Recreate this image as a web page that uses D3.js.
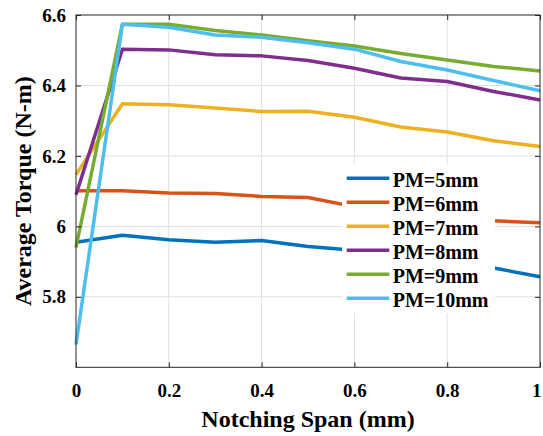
<!DOCTYPE html>
<html>
<head>
<meta charset="utf-8">
<script src="https://cdn.jsdelivr.net/npm/d3@7"></script>
<style>
	body { margin: 0; background: #fff; }
</style>
</head>
<body>
<div id="torque-chart"></div>
<script>
// Notching span values (mm)
const spans = [0, 0.1, 0.2, 0.3, 0.4, 0.5, 0.6, 0.7, 0.8, 0.9, 1.0];

// Average torque (N-m) per PM thickness
const pm5  = [5.955, 5.975, 5.962, 5.955, 5.960, 5.943, 5.932, 5.918, 5.902, 5.882, 5.857];
const pm6  = [6.101, 6.101, 6.095, 6.093, 6.085, 6.082, 6.056, 6.042, 6.030, 6.016, 6.010];
const pm7  = [6.147, 6.348, 6.345, 6.336, 6.326, 6.327, 6.310, 6.282, 6.268, 6.243, 6.227];
const pm8  = [6.090, 6.503, 6.501, 6.487, 6.484, 6.471, 6.449, 6.421, 6.411, 6.383, 6.359];
const pm9  = [5.940, 6.574, 6.574, 6.556, 6.543, 6.527, 6.512, 6.491, 6.472, 6.454, 6.441];
const pm10 = [5.665, 6.574, 6.565, 6.543, 6.537, 6.521, 6.503, 6.468, 6.444, 6.414, 6.385];

const seriesNames = ["PM=5mm", "PM=6mm", "PM=7mm", "PM=8mm", "PM=9mm", "PM=10mm"];
const seriesValues = [pm5, pm6, pm7, pm8, pm9, pm10];
const seriesColors = ["#0072BD", "#D95319", "#EDB120", "#7E2F8E", "#77AC30", "#4DBEEE"];

const xTicks = [0, 0.2, 0.4, 0.6, 0.8, 1];
const yTicks = [5.8, 6, 6.2, 6.4, 6.6];

const serif = "'Liberation Serif', 'Times New Roman', 'DejaVu Serif', serif";

// Set up dimensions
const margin = {top: 15, right: 3, bottom: 68.7, left: 76};
const width = 543 - margin.left - margin.right;
const height = 436 - margin.top - margin.bottom;

const svg = d3.select("#torque-chart")
	.append("svg")
	.attr("width", 543)
	.attr("height", 436)
	.append("g")
	.attr("transform", `translate(${margin.left},${margin.top})`);

// Scales
const xScale = d3.scaleLinear().domain([0, 1]).range([0, width]);
const yScale = d3.scaleLinear().domain([5.6, 6.6]).range([height, 0]);

// Grid lines
svg.selectAll(".xgrid")
	.data(xTicks.slice(1, -1))
	.enter()
	.append("line")
	.attr("x1", d => xScale(d))
	.attr("x2", d => xScale(d))
	.attr("y1", 0)
	.attr("y2", height)
	.attr("stroke", "#dfdfdf")
	.attr("stroke-width", 1);

svg.selectAll(".ygrid")
	.data(yTicks.slice(0, -1))
	.enter()
	.append("line")
	.attr("x1", 0)
	.attr("x2", width)
	.attr("y1", d => yScale(d))
	.attr("y2", d => yScale(d))
	.attr("stroke", "#dfdfdf")
	.attr("stroke-width", 1);

// Lines
const line = d3.line()
	.x((d, i) => xScale(spans[i]))
	.y(d => yScale(d));

seriesValues.forEach((values, i) => {
	svg.append("path")
		.datum(values)
		.attr("fill", "none")
		.attr("stroke", seriesColors[i])
		.attr("stroke-width", 3.5)
		.attr("stroke-linejoin", "round")
		.attr("d", line);
});

// Axes with inward ticks (box style)
const xAxis = svg.append("g")
	.attr("transform", `translate(0,${height})`)
	.call(d3.axisBottom(xScale).tickValues(xTicks).tickSize(-5).tickPadding(16).tickFormat(d3.format("")));
const yAxis = svg.append("g")
	.call(d3.axisLeft(yScale).tickValues(yTicks).tickSize(-5).tickPadding(10).tickFormat(d3.format("")));
const topAxis = svg.append("g")
	.call(d3.axisTop(xScale).tickValues(xTicks).tickSize(-5).tickFormat(""));
const rightAxis = svg.append("g")
	.attr("transform", `translate(${width},0)`)
	.call(d3.axisRight(yScale).tickValues(yTicks).tickSize(-5).tickFormat(""));

[xAxis, yAxis, topAxis, rightAxis].forEach(g => {
	g.attr("font-family", serif).attr("font-size", 19).attr("font-weight", "bold");
	g.select(".domain").remove();
	g.selectAll(".tick line").attr("stroke", "#262626");
	g.selectAll("text").attr("fill", "#000");
});

// keep the last x label inside the window
xAxis.selectAll(".tick text").filter(d => d === 1).attr("dx", "-0.2em");

svg.append("rect")
	.attr("width", width)
	.attr("height", height)
	.attr("fill", "none")
	.attr("stroke", "#262626")
	.attr("stroke-width", 1);

// Axis labels
svg.append("text")
	.attr("x", width / 2)
	.attr("y", 427 - margin.top)
	.attr("font-family", serif)
	.attr("font-weight", "bold")
	.attr("font-size", 24)
	.attr("text-anchor", "middle")
	.text("Notching Span (mm)");

svg.append("text")
	.attr("transform", "rotate(-90)")
	.attr("x", -height / 2)
	.attr("y", 31 - margin.left)
	.attr("font-family", serif)
	.attr("font-weight", "bold")
	.attr("font-size", 24)
	.attr("text-anchor", "middle")
	.text("Average Torque (N-m)");

// Legend
const legend = svg.append("g")
	.attr("transform", `translate(${342 - margin.left},${164 - margin.top})`);

legend.append("rect")
	.attr("width", 153)
	.attr("height", 149)
	.attr("fill", "#fff");

seriesNames.forEach((name, i) => {
	const y = 14.3 + i * 24;
	legend.append("line")
		.attr("x1", 4.7)
		.attr("x2", 47.3)
		.attr("y1", y)
		.attr("y2", y)
		.attr("stroke", seriesColors[i])
		.attr("stroke-width", 3.5);
	legend.append("text")
		.attr("x", 50.7)
		.attr("y", y + 8.4)
		.attr("font-family", serif)
		.attr("font-weight", "bold")
		.attr("font-size", 20)
		.text(name);
});
</script>
</body>
</html>
